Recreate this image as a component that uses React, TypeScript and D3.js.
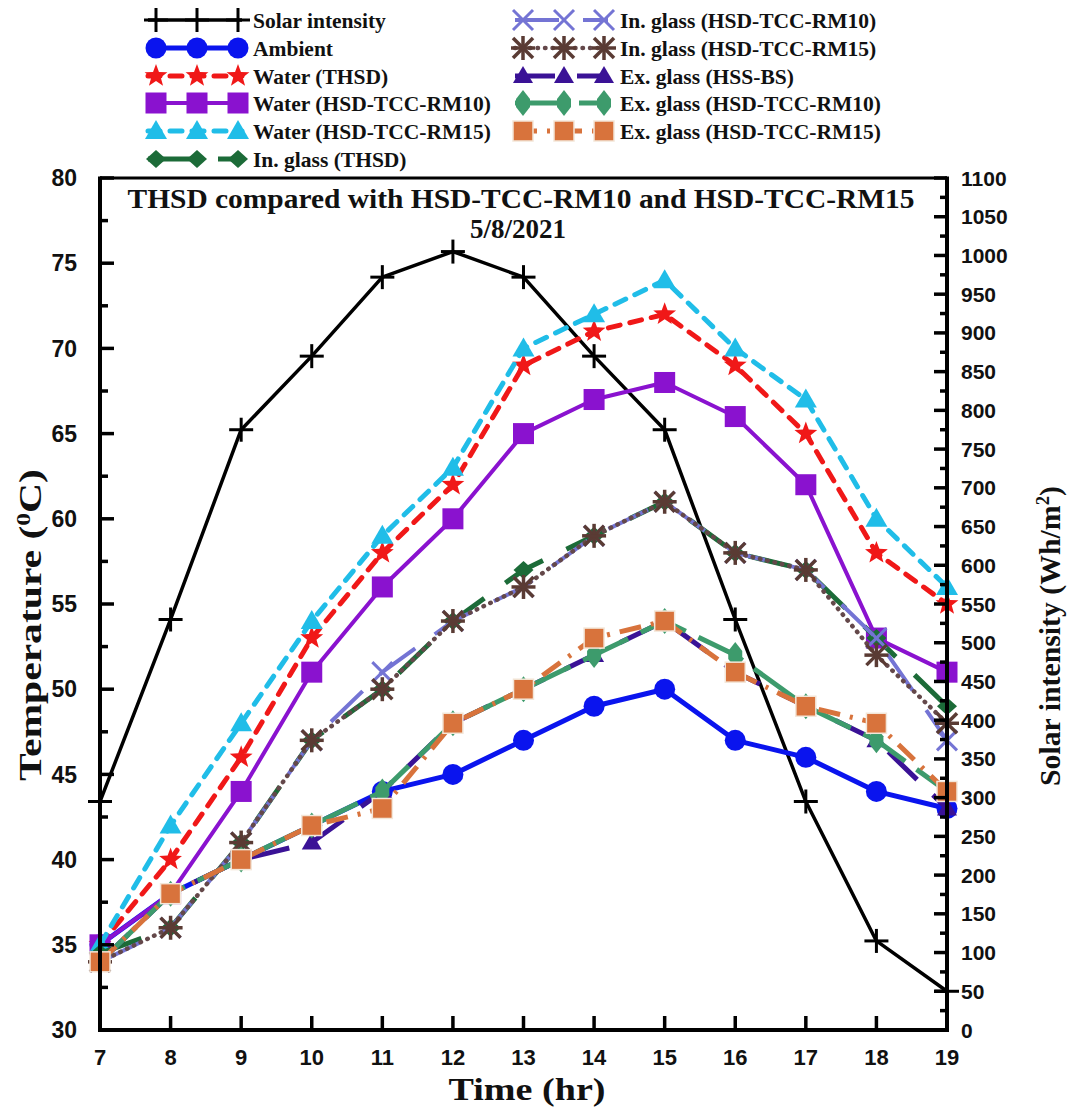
import React from 'react';
import * as d3 from 'd3';

// ---------- DATA ----------
const hours = [7, 8, 9, 10, 11, 12, 13, 14, 15, 16, 17, 18, 19];
const solarIntensity = [295, 530, 775, 870, 972, 1005, 972, 870, 775, 530, 295, 115, 50];
const ambient = [35, 38, 40, 42, 44, 45, 47, 49, 50, 47, 46, 44, 43];
const waterTHSD = [35, 40, 46, 53, 58, 62, 69, 71, 72, 69, 65, 58, 55];
const waterRM10 = [35, 38, 44, 51, 56, 60, 65, 67, 68, 66, 62, 53, 51];
const waterRM15 = [35, 42, 48, 54, 59, 63, 70, 72, 74, 70, 67, 60, 56];
const inGlassTHSD = [34.5, 36, 41, 47, 50, 54, 57, 59, 61, 58, 57, 53, 49];
const inGlassRM10 = [34, 36, 41, 47, 51, 54, 56, 59, 61, 58, 57, 53, 47];
const inGlassRM15 = [34, 36, 41, 47, 50, 54, 56, 59, 61, 58, 57, 52, 48];
const exGlassBS = [34, 38, 40, 41, 44, 48, 50, 52, 54, 51, 49, 47, 43];
const exGlassRM10 = [34, 38, 40, 42, 44, 48, 50, 52, 54, 52, 49, 47, 44];
const exGlassRM15 = [34, 38, 40, 42, 43, 48, 50, 53, 54, 51, 49, 48, 44];

const tempTicks = [30, 35, 40, 45, 50, 55, 60, 65, 70, 75, 80];
const solarTicks = [0, 50, 100, 150, 200, 250, 300, 350, 400, 450, 500, 550, 600, 650, 700, 750, 800, 850, 900, 950, 1000, 1050, 1100];

const titleLine1 = 'THSD compared with HSD-TCC-RM10 and HSD-TCC-RM15';
const titleLine2 = '5/8/2021';

type MarkerType = 'plus' | 'circle' | 'star' | 'square' | 'triangle' | 'diamond' | 'x' | 'asterisk' | 'triangleSm' | 'tallDiamond' | 'squareWhite';

interface Series {
  name: string;
  values: number[];
  axis: 'left' | 'right';
  color: string;
  width: number;
  dash?: string;
  cap?: 'round' | 'butt';
  marker: MarkerType;
  markerColor?: string;
}

const series: Series[] = [
  { name: 'Solar intensity', values: solarIntensity, axis: 'right', color: '#000000', width: 3.5, marker: 'plus' },
  { name: 'Ambient', values: ambient, axis: 'left', color: '#0a14ee', width: 5, marker: 'circle' },
  { name: 'Water (THSD)', values: waterTHSD, axis: 'left', color: '#f01818', width: 5, dash: '12 10', cap: 'round', marker: 'star' },
  { name: 'Water (HSD-TCC-RM10)', values: waterRM10, axis: 'left', color: '#8a12cf', width: 4, marker: 'square' },
  { name: 'Water (HSD-TCC-RM15)', values: waterRM15, axis: 'left', color: '#20bde8', width: 5, dash: '12 10', cap: 'round', marker: 'triangle' },
  { name: 'In. glass (THSD)', values: inGlassTHSD, axis: 'left', color: '#1c6b38', width: 5, dash: '44 26', marker: 'diamond' },
  { name: 'In. glass (HSD-TCC-RM10)', values: inGlassRM10, axis: 'left', color: '#7474d4', width: 4, dash: '44 24', marker: 'x' },
  { name: 'In. glass (HSD-TCC-RM15)', values: inGlassRM15, axis: 'left', color: '#64484a', width: 4.5, dash: '0.5 7', cap: 'round', marker: 'asterisk', markerColor: '#5a3b34' },
  { name: 'Ex. glass (HSS-BS)', values: exGlassBS, axis: 'left', color: '#3a1296', width: 5, dash: '40 22', marker: 'triangleSm' },
  { name: 'Ex. glass (HSD-TCC-RM10)', values: exGlassRM10, axis: 'left', color: '#3d9b6c', width: 5, dash: '50 14', marker: 'tallDiamond' },
  { name: 'Ex. glass (HSD-TCC-RM15)', values: exGlassRM15, axis: 'left', color: '#d8733c', width: 5, dash: '22 10 3 10', marker: 'squareWhite' },
];

// ---------- LAYOUT ----------
const W = 1078;
const H = 1108;
const plot = { left: 100, right: 947, top: 178, bottom: 1030 };
const SERIF = '"Liberation Serif", "Times New Roman", serif';
const SANS = '"Liberation Sans", Arial, sans-serif';

const x = d3.scaleLinear().domain([7, 19]).range([plot.left, plot.right]);
const yL = d3.scaleLinear().domain([30, 80]).range([plot.bottom, plot.top]);
const yR = d3.scaleLinear().domain([0, 1100]).range([plot.bottom, plot.top]);

function starPath(cx: number, cy: number, R: number, r: number) {
  const pts: string[] = [];
  for (let i = 0; i < 10; i++) {
    const a = -Math.PI / 2 + (i * Math.PI) / 5;
    const rad = i % 2 === 0 ? R : r;
    pts.push(`${cx + rad * Math.cos(a)},${cy + rad * Math.sin(a)}`);
  }
  return 'M' + pts.join('L') + 'Z';
}

function Marker({ type, cx, cy, color }: { type: MarkerType; cx: number; cy: number; color: string }) {
  switch (type) {
    case 'plus':
      return (
        <g stroke={color} strokeWidth={3}>
          <line x1={cx - 12} x2={cx + 12} y1={cy} y2={cy} />
          <line x1={cx} x2={cx} y1={cy - 12} y2={cy + 12} />
        </g>
      );
    case 'circle':
      return <circle cx={cx} cy={cy} r={10.5} fill={color} />;
    case 'star':
      return <path d={starPath(cx, cy, 12, 5)} fill={color} />;
    case 'square':
      return <rect x={cx - 10.5} y={cy - 10.5} width={21} height={21} fill={color} />;
    case 'triangle':
      return <path d={`M${cx},${cy - 11}L${cx + 11},${cy + 8}L${cx - 11},${cy + 8}Z`} fill={color} />;
    case 'triangleSm':
      return <path d={`M${cx},${cy - 10}L${cx + 10},${cy + 7}L${cx - 10},${cy + 7}Z`} fill={color} />;
    case 'diamond':
      return <path d={`M${cx},${cy - 9}L${cx + 10},${cy}L${cx},${cy + 9}L${cx - 10},${cy}Z`} fill={color} />;
    case 'tallDiamond':
      return <path d={`M${cx},${cy - 13}L${cx + 7},${cy - 4}L${cx + 7},${cy + 4}L${cx},${cy + 13}L${cx - 7},${cy + 4}L${cx - 7},${cy - 4}Z`} fill={color} />;
    case 'x':
      return (
        <g stroke={color} strokeWidth={3}>
          <line x1={cx - 10} x2={cx + 10} y1={cy - 10} y2={cy + 10} />
          <line x1={cx - 10} x2={cx + 10} y1={cy + 10} y2={cy - 10} />
        </g>
      );
    case 'asterisk':
      return (
        <g stroke={color} strokeWidth={3.5}>
          <line x1={cx - 10} x2={cx + 10} y1={cy - 10} y2={cy + 10} />
          <line x1={cx - 10} x2={cx + 10} y1={cy + 10} y2={cy - 10} />
          <line x1={cx} x2={cx} y1={cy - 12} y2={cy + 12} />
          <line x1={cx - 12} x2={cx + 12} y1={cy} y2={cy} />
        </g>
      );
    case 'squareWhite':
      return <rect x={cx - 10} y={cy - 10} width={20} height={20} fill={color} stroke="#f3e6d8" strokeWidth={1.5} />;
    default:
      return null;
  }
}

const legendLeftRows = [20, 48, 76, 103, 131, 159];
const legendRightRows = [20, 48, 76, 103, 131];

export default function App() {
  const lineGen = (s: Series) =>
    d3
      .line<number>()
      .x((_, i) => x(hours[i]))
      .y((v) => (s.axis === 'right' ? yR(v) : yL(v)))(s.values) || '';

  const tempMinor = tempTicks.slice(0, -1).map((t) => t + 2.5);
  const solarMinor = solarTicks.slice(0, -1).map((t) => t + 25);

  const legendItems = series.map((s, i) => {
    const col = i < 6 ? 0 : 1;
    const cy = col === 0 ? legendLeftRows[i] : legendRightRows[i - 6];
    const x0 = col === 0 ? 148 : 515;
    const x1 = col === 0 ? 242 : 608;
    const mks = col === 0 ? [156, 197, 238] : [523, 564, 604];
    const tx = col === 0 ? 253 : 620;
    return (
      <g key={s.name}>
        <line x1={x0} x2={x1} y1={cy} y2={cy} stroke={s.color} strokeWidth={s.width} strokeDasharray={s.dash} strokeLinecap={s.cap || 'butt'} />
        {mks.map((mx) => (
          <Marker key={mx} type={s.marker} cx={mx} cy={cy} color={s.markerColor || s.color} />
        ))}
        <text x={tx} y={cy + 7.5} fontFamily={SERIF} fontWeight="bold" fontSize={21.5} fill="#111">
          {s.name}
        </text>
      </g>
    );
  });

  return (
    <svg width={W} height={H} style={{ position: 'absolute', left: 0, top: 0, background: '#fff' }}>
      <rect x={0} y={0} width={W} height={H} fill="#fff" />

      {/* Legend */}
      {legendItems}

      {/* Series */}
      {series.map((s) => (
        <g key={s.name}>
          <path d={lineGen(s)} fill="none" stroke={s.color} strokeWidth={s.width} strokeDasharray={s.dash} strokeLinecap={s.cap || 'butt'} strokeLinejoin="round" />
          {s.values.map((v, i) => (
            <Marker key={i} type={s.marker} cx={x(hours[i])} cy={s.axis === 'right' ? yR(v) : yL(v)} color={s.markerColor || s.color} />
          ))}
        </g>
      ))}

      {/* Frame */}
      <line x1={plot.left} x2={plot.right} y1={plot.top} y2={plot.top} stroke="#000" strokeWidth={3} />
      <line x1={plot.left} x2={plot.left} y1={plot.top - 1.5} y2={plot.bottom + 2} stroke="#000" strokeWidth={4} />
      <line x1={plot.right} x2={plot.right} y1={plot.top - 1.5} y2={plot.bottom + 2} stroke="#000" strokeWidth={4} />
      <line x1={plot.left - 2} x2={plot.right + 2} y1={plot.bottom} y2={plot.bottom} stroke="#000" strokeWidth={4} />

      {/* Left ticks */}
      {tempTicks.map((t) => (
        <g key={'lt' + t}>
          <line x1={plot.left} x2={plot.left + 14} y1={yL(t)} y2={yL(t)} stroke="#000" strokeWidth={3.5} />
          <text x={77} y={yL(t)} dy="0.36em" textAnchor="end" fontFamily={SANS} fontWeight="bold" fontSize={23} fill="#111">
            {t}
          </text>
        </g>
      ))}
      {tempMinor.map((t) => (
        <line key={'lm' + t} x1={plot.left} x2={plot.left + 8} y1={yL(t)} y2={yL(t)} stroke="#000" strokeWidth={3.5} />
      ))}

      {/* Right ticks */}
      {solarTicks.map((t) => (
        <g key={'rt' + t}>
          <line x1={plot.right} x2={plot.right - 13} y1={yR(t)} y2={yR(t)} stroke="#000" strokeWidth={3.5} />
          <text x={961} y={yR(t)} dy="0.36em" textAnchor="start" fontFamily={SANS} fontWeight="bold" fontSize={21} fill="#111">
            {t}
          </text>
        </g>
      ))}
      {solarMinor.map((t) => (
        <line key={'rm' + t} x1={plot.right} x2={plot.right - 7} y1={yR(t)} y2={yR(t)} stroke="#000" strokeWidth={3.5} />
      ))}

      {/* Bottom ticks */}
      {hours.map((h) => (
        <g key={'bt' + h}>
          <line x1={x(h)} x2={x(h)} y1={plot.bottom} y2={plot.bottom - 14} stroke="#000" strokeWidth={3.5} />
          <text x={x(h)} y={1065} textAnchor="middle" fontFamily={SANS} fontWeight="bold" fontSize={22} fill="#111">
            {h}
          </text>
        </g>
      ))}

      {/* Title */}
      <text x={521} y={208} textAnchor="middle" fontFamily={SERIF} fontWeight="bold" fontSize={27} fill="#111" textLength={787} lengthAdjust="spacingAndGlyphs">
        {titleLine1}
      </text>
      <text x={518} y={238} textAnchor="middle" fontFamily={SERIF} fontWeight="bold" fontSize={27} fill="#111">
        {titleLine2}
      </text>

      {/* Axis titles */}
      <text x={527} y={1100} textAnchor="middle" fontFamily={SERIF} fontWeight="bold" fontSize={31} fill="#111" textLength={157} lengthAdjust="spacingAndGlyphs">
        Time (hr)
      </text>
      <text transform="translate(41,625) rotate(-90)" textAnchor="middle" fontFamily={SERIF} fontWeight="bold" fontSize={31} fill="#111" textLength={312} lengthAdjust="spacingAndGlyphs">
        Temperature (<tspan dy={-11} fontSize={19}>0</tspan><tspan dy={11}>C)</tspan>
      </text>
      <text transform="translate(1060,636) rotate(-90)" textAnchor="middle" fontFamily={SERIF} fontWeight="bold" fontSize={30} fill="#111" textLength={300} lengthAdjust="spacingAndGlyphs">
        Solar intensity (Wh/m<tspan dy={-11} fontSize={19}>2</tspan><tspan dy={11}>)</tspan>
      </text>
    </svg>
  );
}
